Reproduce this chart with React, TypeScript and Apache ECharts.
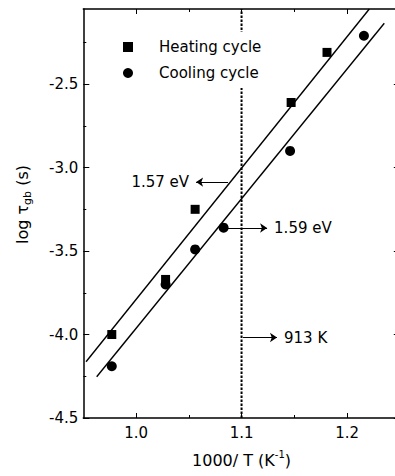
import { useEffect, useRef } from 'react';
import * as echarts from 'echarts';

// Heating cycle (squares)
const heatX = [0.977, 1.028, 1.056, 1.147, 1.181];
const heatY = [-4.0, -3.67, -3.25, -2.61, -2.31];
// Cooling cycle (circles)
const coolX = [0.977, 1.028, 1.056, 1.083, 1.146, 1.216];
const coolY = [-4.19, -3.7, -3.49, -3.36, -2.9, -2.21];
// Linear fits (end points)
const heatFitX = [0.9526, 1.2211];
const heatFitY = [-4.163, -2.05];
const coolFitX = [0.9627, 1.2353];
const coolFitY = [-4.253, -2.135];
// Axis ranges and ticks
const xMin = 0.95;
const xMax = 1.25;
const yMin = -4.5;
const yMax = -2.05;
const xMajor = [1.0, 1.1, 1.2];
const xMinor = [1.05, 1.15];
const yMajor = [-4.5, -4.0, -3.5, -3.0, -2.5];
const yMinor = [-4.25, -3.75, -3.25, -2.75, -2.25];
// Transition line
const transitionX = 1.1;
// Annotation arrows: [fromX, fromY, toX, toY]
const arrow157 = [1.0872, -3.087, 1.0569, -3.087];
const arrow159 = [1.0853, -3.362, 1.1242, -3.362];
const arrow913 = [1.1014, -4.018, 1.1336, -4.018];
const label157 = '1.57 eV';
const label159 = '1.59 eV';
const label913 = '913 K';

const FONT = 'DejaVu Sans';

function xAxisDef(position: string, values: number[], len: number, main: boolean, labels: boolean) {
  return {
    type: 'value',
    position,
    min: xMin,
    max: xMax,
    axisLine: { show: main, onZero: false, lineStyle: { color: '#000', width: 1.5 } },
    axisTick: { show: true, inside: true, length: len, customValues: values, lineStyle: { color: '#000', width: 1 } },
    axisLabel: {
      show: labels,
      customValues: values,
      margin: 7,
      color: '#000',
      fontSize: 15,
      fontFamily: FONT,
      formatter: (v: number) => v.toFixed(1),
    },
    splitLine: { show: false },
  } as any;
}

function yAxisDef(position: string, values: number[], len: number, main: boolean, labels: boolean) {
  return {
    type: 'value',
    position,
    min: yMin,
    max: yMax,
    axisLine: { show: main, onZero: false, lineStyle: { color: '#000', width: 1.5 } },
    axisTick: { show: true, inside: true, length: len, customValues: values, lineStyle: { color: '#000', width: 1 } },
    axisLabel: {
      show: labels,
      customValues: values,
      margin: 5,
      color: '#000',
      fontSize: 15,
      fontFamily: FONT,
      formatter: (v: number) => v.toFixed(1),
    },
    splitLine: { show: false },
  } as any;
}

function arrowMark(a: number[], text: string) {
  return {
    silent: true,
    symbol: ['none', 'arrow'],
    symbolSize: 7,
    itemStyle: { color: '#000' },
    lineStyle: { color: '#000', width: 1, type: 'solid', opacity: 1 },
    label: {
      show: true,
      position: 'end',
      distance: 7,
      formatter: text,
      color: '#000',
      fontSize: 15,
      fontFamily: FONT,
    },
    emphasis: { disabled: true },
    data: [[{ coord: [a[0], a[1]] }, { coord: [a[2], a[3]] }]],
  };
}

export default function App() {
  const ref = useRef<HTMLDivElement>(null);
  useEffect(() => {
    if (!ref.current) return;
    const chart = echarts.init(ref.current, undefined, { renderer: 'svg' });
    const xA0 = xAxisDef('bottom', xMajor, 5, true, true);
    xA0.name = '1000/ T (K{sup|-1})';
    xA0.nameLocation = 'middle';
    xA0.nameGap = 31;
    xA0.nameTextStyle = {
      color: '#000',
      fontSize: 16,
      fontFamily: FONT,
      lineHeight: 22,
      rich: { sup: { fontSize: 10, lineHeight: 10, verticalAlign: 'top', fontFamily: FONT, color: '#000' } },
    };
    const yA0 = yAxisDef('left', yMajor, 6, true, true);
    yA0.name = 'log τ{sub|gb} (s)';
    yA0.nameLocation = 'middle';
    yA0.nameRotate = 90;
    yA0.nameGap = 50;
    yA0.nameTextStyle = {
      color: '#000',
      fontSize: 16,
      fontFamily: FONT,
      lineHeight: 22,
      padding: [0, 0, 0, 18],
      rich: { sub: { fontSize: 11, lineHeight: 11, verticalAlign: 'bottom', fontFamily: FONT, color: '#000' } },
    };
    chart.setOption({
      animation: false,
      textStyle: { fontFamily: FONT, color: '#000' },
      grid: { left: 83.3, right: 10.2, top: 9, bottom: 57, containLabel: false },
      legend: {
        left: 115,
        top: 32,
        orient: 'vertical',
        padding: [6, 10, 6, 8],
        backgroundColor: '#fff',
        itemWidth: 10,
        itemHeight: 10,
        itemGap: 8,
        textStyle: { color: '#000', fontSize: 15, fontFamily: FONT, lineHeight: 18, padding: [0, 0, 0, 21] },
        data: [
          { name: 'Heating cycle', icon: 'rect', itemStyle: { color: '#000', opacity: 1 } },
          { name: 'Cooling cycle', icon: 'circle', itemStyle: { color: '#000', opacity: 1 } },
        ],
      },
      xAxis: [
        xA0,
        xAxisDef('bottom', xMinor, 3, false, false),
        xAxisDef('top', xMajor, 5, true, false),
        xAxisDef('top', xMinor, 3, false, false),
      ],
      yAxis: [
        yA0,
        yAxisDef('left', yMinor, 3, false, false),
        yAxisDef('right', yMajor, 6, true, false),
        yAxisDef('right', yMinor, 3, false, false),
      ],
      series: [
        {
          name: 'transition',
          type: 'line',
          symbol: 'none',
          silent: true,
          lineStyle: { color: '#000', width: 2, type: [2.5, 1.5], opacity: 1 },
          data: [
            [transitionX, yMin],
            [transitionX, yMax],
          ],
          markLine: arrowMark(arrow913, label913),
          z: 1,
        },
        {
          name: 'heatFit',
          type: 'line',
          symbol: 'none',
          silent: true,
          lineStyle: { color: '#000', width: 1.4 },
          data: heatFitX.map((x, i) => [x, heatFitY[i]]),
          markLine: arrowMark(arrow157, label157),
        },
        {
          name: 'coolFit',
          type: 'line',
          symbol: 'none',
          silent: true,
          lineStyle: { color: '#000', width: 1.4 },
          data: coolFitX.map((x, i) => [x, coolFitY[i]]),
          markLine: arrowMark(arrow159, label159),
        },
        {
          name: 'Heating cycle',
          type: 'scatter',
          symbol: 'rect',
          symbolSize: 9,
          itemStyle: { color: '#000', opacity: 1 },
          data: heatX.map((x, i) => [x, heatY[i]]),
          z: 5,
        },
        {
          name: 'Cooling cycle',
          type: 'scatter',
          symbol: 'circle',
          symbolSize: 10,
          itemStyle: { color: '#000', opacity: 1 },
          data: coolX.map((x, i) => [x, coolY[i]]),
          z: 5,
        },
      ],
    });
    return () => chart.dispose();
  }, []);
  return (
    <div style={{ position: 'absolute', left: 0, top: 0, width: 395, height: 476, overflow: 'hidden', background: '#fff' }}>
      <div ref={ref} style={{ width: 410, height: 476 }} />
    </div>
  );
}
